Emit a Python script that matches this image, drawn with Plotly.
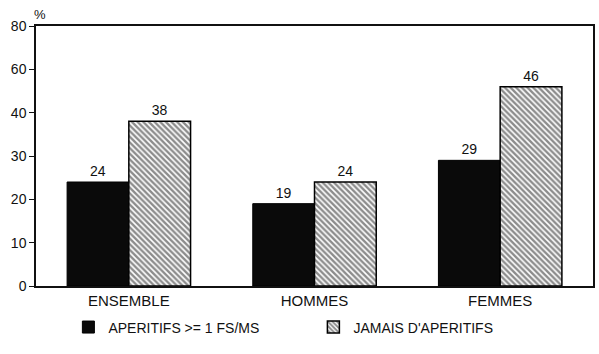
import plotly.graph_objects as go

categories = ["ENSEMBLE", "HOMMES", "FEMMES"]
aperitifs_hebdo = [24, 19, 29]
jamais_aperitifs = [38, 24, 46]
series_names = ["APERITIFS >= 1 FS/MS", "JAMAIS D'APERITIFS"]
tick_values = [0, 10, 20, 30, 40, 50, 60]
tick_labels = ["0", "10", "20", "30", "40", "60", "80"]

FONT = "Liberation Sans, Arial, sans-serif"

fig = go.Figure()
fig.add_trace(go.Bar(
    x=categories, y=aperitifs_hebdo, name=series_names[0],
    marker=dict(color="#0a0a0a", line=dict(color="#000", width=1)),
    text=aperitifs_hebdo, textposition="outside", cliponaxis=False,
    textfont=dict(size=14, color="#111", family=FONT),
))
fig.add_trace(go.Bar(
    x=categories, y=jamais_aperitifs, name=series_names[1],
    marker=dict(
        color="white",
        line=dict(color="#000", width=1.5),
        pattern=dict(shape="\\", fgcolor="#1a1a1a", bgcolor="white",
                     size=4, solidity=0.6, fillmode="overlay"),
    ),
    text=jamais_aperitifs, textposition="outside", cliponaxis=False,
    textfont=dict(size=14, color="#111", family=FONT),
))

fig.update_layout(
    width=599, height=354,
    margin=dict(l=36, r=6, t=26, b=68, autoexpand=False),
    paper_bgcolor="white", plot_bgcolor="white",
    barmode="group", bargap=0.335, bargroupgap=0,
    font=dict(family=FONT, size=14, color="#111"),
    showlegend=True,
    legend=dict(orientation="h", x=0.498, xanchor="center",
                yref="container", y=0.075, yanchor="middle",
                font=dict(size=14, family=FONT), itemwidth=30,
                entrywidth=200, entrywidthmode="pixels",
                traceorder="normal"),
    annotations=[dict(text="%", x=0, y=1, xref="paper", yref="paper",
                      xanchor="center", yanchor="bottom", yshift=2, xshift=4,
                      showarrow=False, font=dict(size=13, family=FONT))],
)
fig.update_xaxes(
    showline=True, linecolor="#111", linewidth=1.5, mirror=True,
    showgrid=False, ticks="", tickfont=dict(size=15, family=FONT),
    range=[-0.5, 2.5],
)
fig.update_yaxes(
    range=[0, 60], tickvals=tick_values, ticktext=tick_labels,
    showline=True, linecolor="#111", linewidth=1.5, mirror=True,
    showgrid=False, zeroline=False, ticks="outside", ticklen=5,
    tickcolor="#111", tickfont=dict(size=14, family=FONT),
)

fig.write_html("out.html")
